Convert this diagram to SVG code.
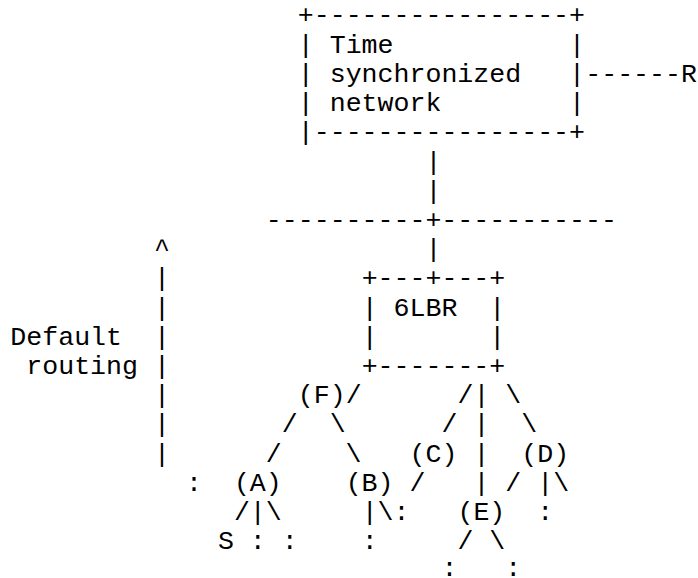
<svg xmlns="http://www.w3.org/2000/svg" width="698" height="578" viewBox="0 0 698 578">
<style>
text{font-family:"Liberation Mono","Courier New",monospace;font-size:26.6px;fill:#000;white-space:pre}
</style>
<rect width="698" height="578" fill="#fff"/>
<g id="tsn">
<text x="297.76" y="23.4">+----------------+</text>
<text x="297.76" y="52.62">| Time           |</text>
<text x="297.76" y="81.84">| synchronized   |</text>
<text x="297.76" y="111.06">| network        |</text>
<text x="297.76" y="140.28">|----------------+</text>
</g>
<g id="r">
<text x="681.04" y="81.84">R</text>
</g>
<g id="lbr">
<text x="361.64" y="286.38">+---+---+</text>
<text x="361.64" y="315.6">| 6LBR  |</text>
<text x="361.64" y="344.82">|       |</text>
<text x="361.64" y="374.04">+-------+</text>
</g>
<g id="default-routing">
<text x="154.03" y="257.16">^</text>
<text x="154.03" y="286.38">|</text>
<text x="154.03" y="315.6">|</text>
<text x="154.03" y="344.82">|</text>
<text x="154.03" y="374.04">|</text>
<text x="154.03" y="403.26">|</text>
<text x="154.03" y="432.48">|</text>
<text x="154.03" y="461.7">|</text>
<text x="10.3" y="344.82">Default</text>
<text x="26.27" y="374.04">routing</text>
</g>
<g id="connectors">
<text x="585.22" y="81.84">------</text>
<text x="425.52" y="169.5">|</text>
<text x="425.52" y="198.72">|</text>
<text x="265.82" y="227.94">----------+-----------</text>
<text x="425.52" y="257.16">|</text>
<text x="345.67" y="403.26">/</text>
<text x="457.46" y="403.26">/| \</text>
<text x="281.79" y="432.48">/  \</text>
<text x="441.49" y="432.48">/ |  \</text>
<text x="265.82" y="461.7">/    \</text>
<text x="473.43" y="461.7">|</text>
<text x="409.55" y="490.92">/   | / |\</text>
<text x="233.88" y="520.14">/|\</text>
<text x="361.64" y="520.14">|\</text>
<text x="457.46" y="549.36">/ \</text>
</g>
<g id="f"><text x="297.76" y="403.26">(F)</text></g>
<g id="c"><text x="409.55" y="461.7">(C)</text></g>
<g id="d"><text x="521.34" y="461.7">(D)</text></g>
<g id="a"><text x="233.88" y="490.92">(A)</text></g>
<g id="b"><text x="345.67" y="490.92">(B)</text></g>
<g id="e"><text x="457.46" y="520.14">(E)</text></g>
<g id="s"><text x="217.91" y="549.36">S</text></g>
<g id="more">
<text x="185.97" y="490.92">:</text>
<text x="393.58" y="520.14">:</text>
<text x="537.31" y="520.14">:</text>
<text x="249.85" y="549.36">: :</text>
<text x="361.64" y="549.36">:</text>
<text x="441.49" y="576">:   :</text>
</g>
</svg>
